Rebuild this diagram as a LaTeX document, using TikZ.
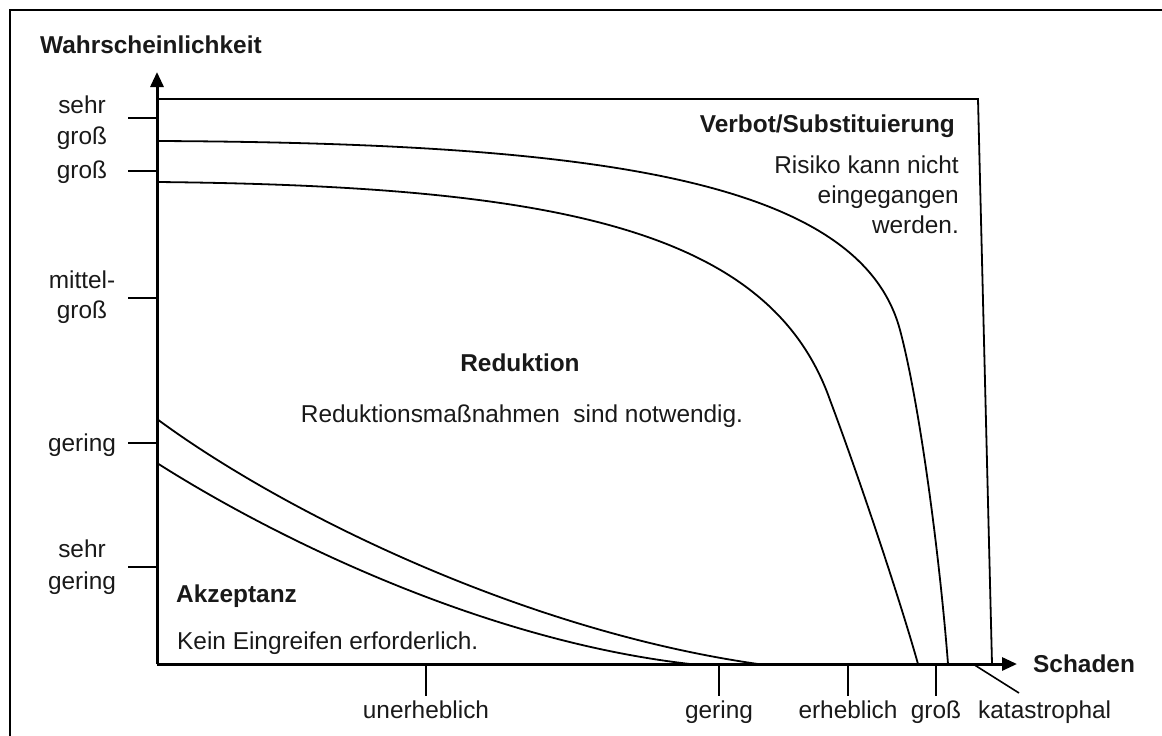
\documentclass[tikz,border=0pt]{standalone}
\usepackage{fontspec}
\setmainfont{Liberation Sans}
\usetikzlibrary{arrows.meta}
\begin{document}
\begin{tikzpicture}[x=1pt,y=-1pt,
  lbl/.style={font=\fontsize{24.4}{30}\selectfont, inner sep=0pt, text=black!90},
  ttl/.style={font=\fontsize{24.4}{30}\selectfont\bfseries, inner sep=0pt, text=black!90},
  axisline/.style={line width=3pt, -{Triangle[length=15pt,width=13pt]}},
  border/.style={line width=2.5pt},
  zoneline/.style={line width=1.8pt},
  tickline/.style={line width=1.6pt}]
\useasboundingbox (0,0) rectangle (1162,736);

% outer frame (top and left edges)
\draw[border] (10,736) -- (10,10) -- (1162,10);

% axes
\coordinate (O) at (157,664);
\coordinate (ytip) at (157,72);
\coordinate (xtip) at (1017,664);
\draw[axisline] (O) -- (ytip);
\draw[axisline] (O) -- (xtip);

% limit of the chart area
\coordinate (tl) at (157,99);
\coordinate (tr) at (978,99);
\coordinate (br) at (992,664);
\draw[zoneline] (tl) -- (tr) -- (br);

% boundary between reduction and prohibition
\draw[zoneline] (157,141) .. controls (600,143) and (860,180) .. (900,330)
  .. controls (920,405) and (940,560) .. (948,664);
% boundary between acceptance region upper limit and reduction
\draw[zoneline] (157,182) .. controls (560,186) and (770,230) .. (830,400)
  .. controls (860,480) and (900,600) .. (918,664);
% acceptance boundaries
\draw[zoneline] (157,419) .. controls (280,510) and (520,630) .. (758,664);
\draw[zoneline] (157,463) .. controls (270,535) and (480,640) .. (690,664);

% ticks on the probability axis
\foreach \yy in {118,171,298,443,567}
  \draw[tickline] (128,\yy) -- (157,\yy);

% ticks on the damage axis
\foreach \xx in {426,719,848,936}
  \draw[tickline] (\xx,664) -- (\xx,696);
\coordinate (kt1) at (973,664);
\coordinate (kt2) at (1019,693);
\draw[tickline] (kt1) -- (kt2);

% axis titles
\node[ttl, anchor=base west] (ytitle) at (40,53) {Wahrscheinlichkeit};
\node[ttl, anchor=base west] (xtitle) at (1033,672) {Schaden};

% probability labels
\node[lbl, anchor=base] (p1a) at (82,113) {sehr};
\node[lbl, anchor=base] (p1b) at (82,144) {groß};
\node[lbl, anchor=base] (p2) at (82,178) {groß};
\node[lbl, anchor=base] (p3a) at (82,288) {mittel-};
\node[lbl, anchor=base] (p3b) at (82,318) {groß};
\node[lbl, anchor=base] (p4) at (82,451) {gering};
\node[lbl, anchor=base] (p5a) at (82,557) {sehr};
\node[lbl, anchor=base] (p5b) at (82,589) {gering};

% damage labels
\node[lbl, anchor=base] (d1) at (426,718) {unerheblich};
\node[lbl, anchor=base] (d2) at (719,718) {gering};
\node[lbl, anchor=base] (d3) at (848,718) {erheblich};
\node[lbl, anchor=base] (d4) at (936,718) {groß};
\node[lbl, anchor=base west] (d5) at (978,718) {katastrophal};

% zone texts
\node[ttl, anchor=base east] (vt) at (955,132) {Verbot/Substituierung};
\node[lbl, anchor=base east] (v1) at (959,173) {Risiko kann nicht};
\node[lbl, anchor=base east] (v2) at (959,203) {eingegangen};
\node[lbl, anchor=base east] (v3) at (959,233) {werden.};

\node[ttl, anchor=base] (rt) at (520,371) {Reduktion};
\node[lbl, anchor=base] (r1) at (522,422) {Reduktionsmaßnahmen\ \ sind notwendig.};

\node[ttl, anchor=base west] (at) at (176,602) {Akzeptanz};
\node[lbl, anchor=base west] (a1) at (177,649) {Kein Eingreifen erforderlich.};
\end{tikzpicture}
\end{document}
